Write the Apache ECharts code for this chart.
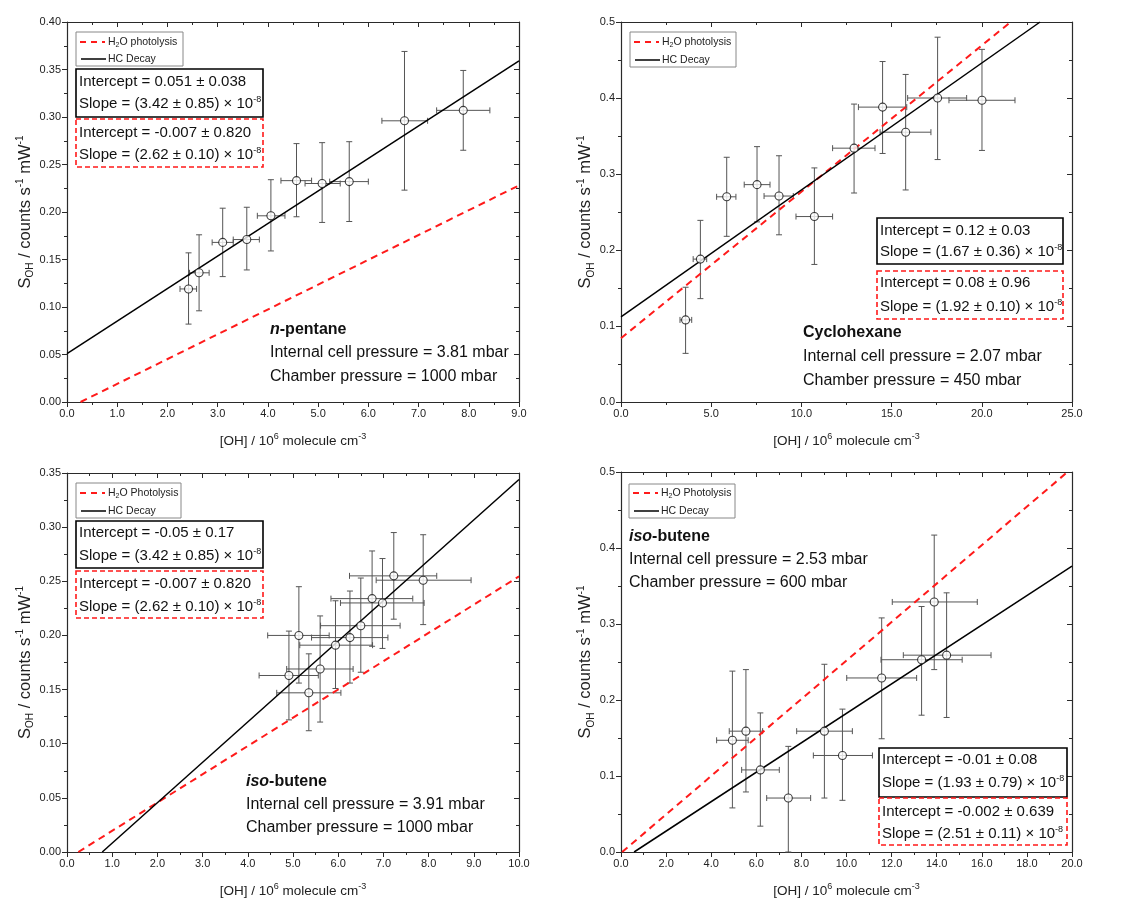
<!DOCTYPE html>
<html>
<head>
<meta charset="utf-8">
<script src="https://cdn.jsdelivr.net/npm/echarts@6/dist/echarts.min.js"></script>
<style>html,body{margin:0;padding:0;background:#fff;}#c{width:1121px;height:901px;}</style>
</head>
<body>
<div id="c"></div>
<script>
// ---------- Data ----------
// Panel 1: n-pentane
const p1X   = [2.42, 2.63, 3.10, 3.58, 4.06, 4.57, 5.08, 5.62, 6.72, 7.89];
const p1Y   = [0.119, 0.136, 0.168, 0.171, 0.196, 0.233, 0.230, 0.232, 0.296, 0.307];
const p1XLo = [2.25, 2.44, 2.89, 3.31, 3.79, 4.26, 4.74, 5.23, 6.27, 7.36];
const p1XHi = [2.58, 2.83, 3.31, 3.83, 4.34, 4.87, 5.44, 6.00, 7.18, 8.42];
const p1YLo = [0.082, 0.096, 0.132, 0.139, 0.159, 0.195, 0.189, 0.190, 0.223, 0.265];
const p1YHi = [0.157, 0.176, 0.204, 0.205, 0.234, 0.272, 0.273, 0.274, 0.369, 0.349];
const p1Hc  = [[0, 0.051], [9, 0.359]];
const p1H2o = [[0.27, 0], [9, 0.228]];

// Panel 2: cyclohexane
const p2X   = [3.58, 4.40, 5.86, 7.54, 8.76, 10.72, 12.92, 14.50, 15.78, 17.55, 20.01];
const p2Y   = [0.108, 0.188, 0.270, 0.286, 0.271, 0.244, 0.334, 0.388, 0.355, 0.400, 0.397];
const p2XLo = [3.27, 4.00, 5.30, 6.83, 7.93, 9.70, 11.73, 13.16, 14.36, 15.89, 18.18];
const p2XHi = [3.92, 4.75, 6.37, 8.26, 9.55, 11.73, 14.08, 15.84, 17.18, 19.16, 21.84];
const p2YLo = [0.064, 0.136, 0.218, 0.237, 0.220, 0.181, 0.275, 0.327, 0.279, 0.319, 0.331];
const p2YHi = [0.151, 0.239, 0.322, 0.336, 0.324, 0.308, 0.392, 0.448, 0.431, 0.480, 0.464];
const p2Hc  = [[0, 0.112], [23.23, 0.5]];
const p2H2o = [[0, 0.084], [21.6, 0.5]];

// Panel 3: iso-butene (1000 mbar)
const p3X   = [4.91, 5.13, 5.35, 5.60, 5.94, 6.26, 6.50, 6.75, 6.98, 7.23, 7.88];
const p3Y   = [0.163, 0.200, 0.147, 0.169, 0.191, 0.198, 0.209, 0.234, 0.230, 0.255, 0.251];
const p3XLo = [4.25, 4.44, 4.64, 4.86, 5.15, 5.41, 5.61, 5.84, 6.05, 6.25, 6.84];
const p3XHi = [5.56, 5.80, 6.06, 6.33, 6.76, 7.10, 7.37, 7.65, 7.90, 8.18, 8.94];
const p3YLo = [0.122, 0.156, 0.112, 0.120, 0.151, 0.156, 0.166, 0.190, 0.188, 0.215, 0.210];
const p3YHi = [0.204, 0.245, 0.183, 0.218, 0.232, 0.241, 0.253, 0.278, 0.271, 0.295, 0.293];
const p3Hc  = [[0.78, 0], [10, 0.344]];
const p3H2o = [[0.25, 0], [10, 0.2545]];

// Panel 4: iso-butene (600 mbar)
const p4X   = [4.94, 5.54, 6.18, 7.42, 9.02, 9.82, 11.56, 13.33, 13.89, 14.44];
const p4Y   = [0.147, 0.159, 0.108, 0.071, 0.159, 0.127, 0.229, 0.253, 0.329, 0.259];
const p4XLo = [4.24, 4.80, 5.35, 6.46, 7.79, 8.53, 10.01, 11.53, 12.03, 12.52];
const p4XHi = [5.64, 6.28, 7.02, 8.41, 10.26, 11.15, 13.11, 15.13, 15.80, 16.41];
const p4YLo = [0.058, 0.079, 0.034, 0.000, 0.071, 0.068, 0.149, 0.180, 0.240, 0.177];
const p4YHi = [0.238, 0.240, 0.183, 0.139, 0.247, 0.188, 0.308, 0.323, 0.417, 0.341];
const p4Hc  = [[0.58, 0], [20, 0.376]];
const p4H2o = [[0.05, 0], [19.8, 0.5]];

// Axis ranges / ticks
const xMin = [0, 0, 0, 0], xMax = [9, 25, 10, 20], xInt = [1, 5, 1, 2], xDec = [1, 1, 1, 1];
const yMin = [0, 0, 0, 0], yMax = [0.40, 0.5, 0.35, 0.5], yInt = [0.05, 0.1, 0.05, 0.1], yDec = [2, 1, 2, 1];

// Texts
const legendLabels = [['H{sub|2}O photolysis', 'HC Decay'], ['H{sub|2}O photolysis', 'HC Decay'],
                      ['H{sub|2}O Photolysis', 'HC Decay'], ['H{sub|2}O Photolysis', 'HC Decay']];
const hcFitText  = [['Intercept = 0.051 ± 0.038', 'Slope = (3.42 ± 0.85) × 10{sup|-8}'],
                    ['Intercept = 0.12 ± 0.03',   'Slope = (1.67 ± 0.36) × 10{sup|-8}'],
                    ['Intercept = -0.05 ± 0.17',  'Slope = (3.42 ± 0.85) × 10{sup|-8}'],
                    ['Intercept = -0.01 ± 0.08',  'Slope = (1.93 ± 0.79) × 10{sup|-8}']];
const h2oFitText = [['Intercept = -0.007 ± 0.820', 'Slope = (2.62 ± 0.10) × 10{sup|-8}'],
                    ['Intercept = 0.08 ± 0.96',    'Slope = (1.92 ± 0.10) × 10{sup|-8}'],
                    ['Intercept = -0.007 ± 0.820', 'Slope = (2.62 ± 0.10) × 10{sup|-8}'],
                    ['Intercept = -0.002 ± 0.639', 'Slope = (2.51 ± 0.11) × 10{sup|-8}']];
const compoundText = [['{bi|n}{b|-pentane}', 'Internal cell pressure = 3.81 mbar', 'Chamber pressure = 1000 mbar'],
                      ['{b|Cyclohexane}',   'Internal cell pressure = 2.07 mbar', 'Chamber pressure = 450 mbar'],
                      ['{bi|iso}{b|-butene}', 'Internal cell pressure = 3.91 mbar', 'Chamber pressure = 1000 mbar'],
                      ['{bi|iso}{b|-butene}', 'Internal cell pressure = 2.53 mbar', 'Chamber pressure = 600 mbar']];
const xTitle = '[OH] / 10{sup|6} molecule cm{sup|-3}';
const yTitle = 'S{sub|OH} / counts s{sup|-1} mW{sup|-1}';

// ---------- Layout ----------
const FONT = '"Liberation Sans", Arial, Helvetica, sans-serif';
const grids = [
  {left: 67,  top: 22,  width: 452, height: 380},
  {left: 621, top: 22,  width: 451, height: 380},
  {left: 67,  top: 473, width: 452, height: 380},
  {left: 621, top: 472, width: 451, height: 380}
];
const yNameGap = [32, 18, 32, 18];
const layoutPos = [
  {leg: [76, 32, 107, 34], legY: [42, 59], hc: [76, 69, 187, 48], hcY: [82, 104], h2o: [76, 119, 187, 48], h2oY: [133, 155], cmp: [270, 330, 353, 377]},
  {leg: [630, 32, 106, 35], legY: [42, 60], hc: [877, 218, 186, 46], hcY: [231, 252], h2o: [877, 271, 186, 48], h2oY: [283, 307], cmp: [803, 333, 357, 381]},
  {leg: [76, 483, 105, 35], legY: [493, 511], hc: [76, 521, 187, 47], hcY: [533, 556], h2o: [76, 571, 187, 47], h2oY: [584, 607], cmp: [246, 782, 805, 828]},
  {leg: [629, 484, 106, 34], legY: [493, 511], hc: [879, 748, 188, 49], hcY: [760, 783], h2o: [879, 798, 188, 47], h2oY: [812, 834], cmp: [629, 537, 560, 583]}
];

const axisColor = '#2a2a2a';
const xAxes = [], yAxes = [], series = [], graphic = [];

const xRich = {
  sup: {fontSize: 9, lineHeight: 9, verticalAlign: 'top', fontFamily: FONT, color: '#222'}
};
const yRich = {
  sup: {fontSize: 10, lineHeight: 10, verticalAlign: 'top', fontFamily: FONT, color: '#222'},
  sub: {fontSize: 10, lineHeight: 10, verticalAlign: 'bottom', fontFamily: FONT, color: '#222'}
};

for (let i = 0; i < 4; i++) {
  const common = {
    gridIndex: i, type: 'value', splitLine: {show: false},
    axisLine: {show: true, onZero: false, lineStyle: {color: axisColor, width: 1.2}},
  };
  xAxes.push(Object.assign({}, common, {
    position: 'bottom', min: xMin[i], max: xMax[i], interval: xInt[i],
    axisTick: {show: true, inside: false, length: 5, lineStyle: {color: axisColor}},
    minorTick: {show: true, splitNumber: 2, length: 3, lineStyle: {color: axisColor}},
    axisLabel: {show: true, margin: 6, fontSize: 11, fontFamily: FONT, color: '#222',
      formatter: (v) => v.toFixed(xDec[i]), showMinLabel: true, showMaxLabel: true},
    name: xTitle, nameLocation: 'middle', nameGap: 30,
    nameTextStyle: {fontSize: 13.5, fontFamily: FONT, color: '#222', lineHeight: 18, rich: xRich}
  }));
  xAxes.push(Object.assign({}, common, {
    position: 'top', min: xMin[i], max: xMax[i], interval: xInt[i],
    axisTick: {show: true, inside: true, length: 5, lineStyle: {color: axisColor}},
    minorTick: {show: true, splitNumber: 2, length: 3, lineStyle: {color: axisColor}},
    axisLabel: {show: false}
  }));
  yAxes.push(Object.assign({}, common, {
    position: 'left', min: yMin[i], max: yMax[i], interval: yInt[i],
    axisTick: {show: true, inside: false, length: 5, lineStyle: {color: axisColor}},
    minorTick: {show: true, splitNumber: 2, length: 3, lineStyle: {color: axisColor}},
    axisLabel: {show: true, margin: 6, fontSize: 11, fontFamily: FONT, color: '#222',
      formatter: (v) => v.toFixed(yDec[i]), showMinLabel: true, showMaxLabel: true},
    name: yTitle, nameLocation: 'middle', nameGap: yNameGap[i], nameRotate: 90,
    nameTextStyle: {fontSize: 16.5, fontFamily: FONT, color: '#222', lineHeight: 20, rich: yRich}
  }));
  yAxes.push(Object.assign({}, common, {
    position: 'right', min: yMin[i], max: yMax[i], interval: yInt[i],
    axisTick: {show: true, inside: true, length: 5, lineStyle: {color: axisColor}},
    minorTick: {show: true, splitNumber: 2, length: 3, lineStyle: {color: axisColor}},
    axisLabel: {show: false}
  }));
}

const panels = [
  [p1X, p1Y, p1XLo, p1XHi, p1YLo, p1YHi, p1Hc, p1H2o],
  [p2X, p2Y, p2XLo, p2XHi, p2YLo, p2YHi, p2Hc, p2H2o],
  [p3X, p3Y, p3XLo, p3XHi, p3YLo, p3YHi, p3Hc, p3H2o],
  [p4X, p4Y, p4XLo, p4XHi, p4YLo, p4YHi, p4Hc, p4H2o]
];

panels.forEach((p, i) => {
  const [xs, ys, xl, xh, yl, yh, hc, h2o] = p;
  const ax = {xAxisIndex: i * 2, yAxisIndex: i * 2};
  series.push(Object.assign({
    type: 'custom', silent: true, z: 1, clip: false,
    data: xs.map((x, k) => [x, ys[k], xl[k], xh[k], yl[k], yh[k]]),
    encode: {x: [0, 2, 3], y: [1, 4, 5]},
    renderItem: (params, api) => {
      const x = api.value(0), y = api.value(1);
      const c = api.coord([x, y]);
      const xa = api.coord([api.value(2), y])[0], xb = api.coord([api.value(3), y])[0];
      const ya = api.coord([x, api.value(4)])[1], yb = api.coord([x, api.value(5)])[1];
      const cap = 3;
      const style = {stroke: '#555', lineWidth: 1, fill: null};
      const L = (x1, y1, x2, y2) => ({type: 'line', shape: {x1, y1, x2, y2}, style});
      return {type: 'group', children: [
        L(xa, c[1], xb, c[1]), L(xa, c[1] - cap, xa, c[1] + cap), L(xb, c[1] - cap, xb, c[1] + cap),
        L(c[0], ya, c[0], yb), L(c[0] - cap, ya, c[0] + cap, ya), L(c[0] - cap, yb, c[0] + cap, yb)
      ]};
    }
  }, ax));
  series.push(Object.assign({
    type: 'line', data: h2o, symbol: 'none', z: 2, silent: true,
    lineStyle: {color: '#ff1a1a', width: 2, type: [7, 5]}
  }, ax));
  series.push(Object.assign({
    type: 'line', data: hc, symbol: 'none', z: 3, silent: true,
    lineStyle: {color: '#000', width: 1.5}
  }, ax));
  series.push(Object.assign({
    type: 'scatter', data: xs.map((x, k) => [x, ys[k]]), symbol: 'circle', symbolSize: 8, z: 5,
    itemStyle: {color: '#fff', borderColor: '#111', borderWidth: 1.1}
  }, ax));

  // ----- legend box -----
  const L = layoutPos[i];
  const [lx, ly, lw, lh] = L.leg;
  graphic.push({type: 'rect', z: 100, shape: {x: lx, y: ly, width: lw, height: lh},
    style: {fill: '#fff', stroke: '#888', lineWidth: 1}});
  graphic.push({type: 'line', z: 101, shape: {x1: lx + 4, y1: L.legY[0], x2: lx + 29, y2: L.legY[0]},
    style: {stroke: '#ff1a1a', lineWidth: 2, lineDash: [6, 5]}});
  graphic.push({type: 'line', z: 101, shape: {x1: lx + 5, y1: L.legY[1], x2: lx + 30, y2: L.legY[1]},
    style: {stroke: '#000', lineWidth: 1.5}});
  legendLabels[i].forEach((t, k) => {
    graphic.push({type: 'text', z: 101, x: lx + 32, y: L.legY[k],
      style: {text: t, fontSize: 10.5, fontFamily: FONT, fill: '#222', verticalAlign: 'middle', lineHeight: 14,
        rich: {sub: {fontSize: 7, lineHeight: 7, verticalAlign: 'bottom', fontFamily: FONT, fill: '#222'}}}});
  });

  // ----- fit boxes -----
  const boxRich = {sup: {fontSize: 9, lineHeight: 9, verticalAlign: 'top', fontFamily: FONT, fill: '#111'}};
  const [bx, by, bw, bh] = L.hc;
  graphic.push({type: 'rect', z: 100, shape: {x: bx, y: by, width: bw, height: bh},
    style: {fill: '#fff', stroke: '#000', lineWidth: 1.6}});
  hcFitText[i].forEach((t, k) => {
    graphic.push({type: 'text', z: 101, x: bx + 3, y: L.hcY[k],
      style: {text: t, fontSize: 15, fontFamily: FONT, fill: '#111', verticalAlign: 'middle', lineHeight: 18, rich: boxRich}});
  });
  const [rx, ry, rw, rh] = L.h2o;
  graphic.push({type: 'rect', z: 100, shape: {x: rx, y: ry, width: rw, height: rh},
    style: {fill: '#fff', stroke: '#ff1a1a', lineWidth: 1.6, lineDash: [5, 3]}});
  h2oFitText[i].forEach((t, k) => {
    graphic.push({type: 'text', z: 101, x: rx + 3, y: L.h2oY[k],
      style: {text: t, fontSize: 15, fontFamily: FONT, fill: '#111', verticalAlign: 'middle', lineHeight: 18, rich: boxRich}});
  });

  // ----- compound text -----
  compoundText[i].forEach((t, k) => {
    graphic.push({type: 'text', z: 101, x: L.cmp[0], y: L.cmp[k + 1],
      style: {text: t, fontSize: 16, fontFamily: FONT, fill: '#111', verticalAlign: 'middle', lineHeight: 19,
        rich: {b: {fontSize: 16, fontWeight: 'bold', fontFamily: FONT, fill: '#111'},
               bi: {fontSize: 16, fontWeight: 'bold', fontStyle: 'italic', fontFamily: FONT, fill: '#111'}}}});
  });
});

const chart = echarts.init(document.getElementById('c'), null, {renderer: 'canvas'});
chart.setOption({
  animation: false,
  backgroundColor: '#fff',
  grid: grids,
  xAxis: xAxes,
  yAxis: yAxes,
  series: series,
  graphic: graphic
});
</script>
</body>
</html>
